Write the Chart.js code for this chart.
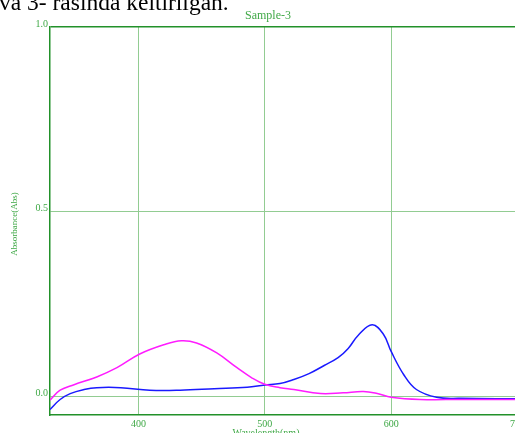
<!DOCTYPE html>
<html>
<head>
<meta charset="utf-8">
<script src="https://cdn.jsdelivr.net/npm/chart.js@4/dist/chart.umd.min.js"></script>
<style>
  html, body { margin: 0; padding: 0; background: #fff; overflow: hidden; }
  #wrap { position: absolute; left: 0; top: 0; width: 540px; height: 433px; }
</style>
</head>
<body>
<div id="wrap"><canvas id="spectrum"></canvas></div>
<script>
// Spectrum data (wavelength in nm, absorbance)
const magentaWl  = [330, 338, 349, 367, 383, 401, 420, 434, 446, 462, 478, 490, 500, 512, 523, 544, 562, 578, 589, 600, 623, 655, 700];
const magentaAbs = [-0.01, 0.017, 0.032, 0.053, 0.078, 0.115, 0.14, 0.151, 0.145, 0.118, 0.078, 0.05, 0.033, 0.024, 0.019, 0.008, 0.01, 0.0135, 0.008, -0.002, -0.008, -0.008, -0.008];

const blueWl  = [330, 338, 346, 357, 367, 386, 409, 433, 460, 486, 500, 512, 523, 535, 547, 558, 566, 574, 585, 594, 600, 610, 620, 636, 655, 700];
const blueAbs = [-0.035, -0.008, 0.008, 0.019, 0.024, 0.024, 0.017, 0.017, 0.021, 0.025, 0.031, 0.035, 0.046, 0.062, 0.084, 0.105, 0.13, 0.166, 0.194, 0.168, 0.122, 0.059, 0.019, -0.002, -0.005, -0.006];

const xTicks = [400, 500, 600, 700];
const yTicks = [0.0, 0.5, 1.0];

const darkGreen = '#22912a';
const gridGreen = '#92cc92';
const textGreen = '#3fa846';

function toPoints(xs, ys) {
    return xs.map((x, i) => ({ x: x, y: ys[i] }));
}

// Extra text: clipped caption above, title and axis titles
const textPlugin = {
    id: 'textPlugin',
    afterDraw(chart) {
        const ctx = chart.ctx;
        ctx.save();
        ctx.fillStyle = '#000';
        ctx.font = '23.5px "Liberation Serif"';
        ctx.textAlign = 'left';
        ctx.textBaseline = 'alphabetic';
        ctx.fillText('va 3- rasında keltirilgan.', -1, 10);

        ctx.fillStyle = textGreen;
        ctx.font = '12px "Liberation Serif"';
        ctx.textAlign = 'center';
        ctx.textBaseline = 'middle';
        ctx.fillText('Sample-3', 268, 16);

        ctx.font = '10px "Liberation Serif"';
        ctx.textBaseline = 'alphabetic';
        ctx.fillText('Wavelength(nm)', 266, 436);

        ctx.translate(15, 224);
        ctx.rotate(-Math.PI / 2);
        ctx.font = '9px "Liberation Serif"';
        ctx.textBaseline = 'middle';
        ctx.fillText('Absorbance(Abs)', 0, 0);
        ctx.restore();
    }
};

const ctx = document.getElementById('spectrum').getContext('2d');
new Chart(ctx, {
    type: 'line',
    data: {
        datasets: [
            {
                data: toPoints(magentaWl, magentaAbs),
                borderColor: '#ff1cff',
                borderWidth: 1.5,
                pointRadius: 0,
                tension: 0.4,
                fill: false
            },
            {
                data: toPoints(blueWl, blueAbs),
                borderColor: '#1a1aff',
                borderWidth: 1.5,
                pointRadius: 0,
                tension: 0.4,
                fill: false
            }
        ]
    },
    options: {
        responsive: true,
        maintainAspectRatio: false,
        animation: false,
        devicePixelRatio: 1,
        layout: { padding: { top: 27, left: 0, right: 22.5, bottom: 0 } },
        plugins: {
            legend: { display: false },
            tooltip: { enabled: false }
        },
        scales: {
            x: {
                type: 'linear',
                min: 330,
                max: 700,
                afterBuildTicks: s => { s.ticks = xTicks.map(v => ({ value: v })); },
                afterFit: s => { s.height = 18; },
                grid: { color: gridGreen, lineWidth: 1, drawTicks: false },
                border: { color: darkGreen, width: 1.5 },
                ticks: {
                    color: textGreen,
                    font: { family: 'Liberation Serif', size: 10 },
                    padding: 3,
                    maxRotation: 0,
                    callback: v => String(v)
                }
            },
            y: {
                min: -0.05,
                max: 1.0,
                afterBuildTicks: s => { s.ticks = yTicks.map(v => ({ value: v })); },
                afterFit: s => { s.width = 50; },
                grid: {
                    color: c => (c.tick && c.tick.value === 1 ? darkGreen : gridGreen),
                    lineWidth: c => (c.tick && c.tick.value === 1 ? 1.5 : 1),
                    drawTicks: false
                },
                border: { color: darkGreen, width: 1.5 },
                ticks: {
                    color: textGreen,
                    font: { family: 'Liberation Serif', size: 10 },
                    padding: 2,
                    labelOffset: -3,
                    callback: v => v.toFixed(1)
                }
            }
        }
    },
    plugins: [textPlugin]
});
</script>
</body>
</html>
